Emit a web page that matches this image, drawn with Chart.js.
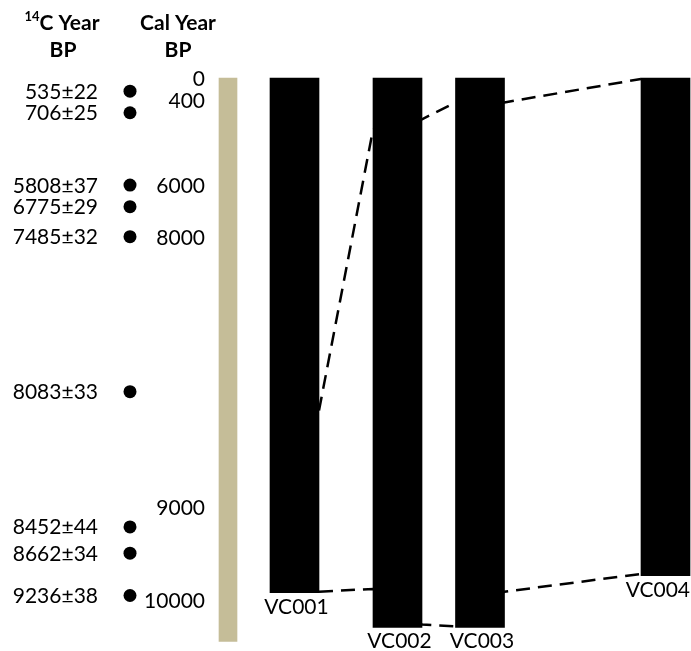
<!DOCTYPE html>
<html>
<head>
<meta charset="utf-8">
<script src="https://cdn.jsdelivr.net/npm/chart.js@4/dist/chart.umd.min.js"></script>
<style>
  html, body { margin: 0; padding: 0; background: #fff; }
  canvas { display: block; }
</style>
</head>
<body>
<canvas id="c" width="691" height="651"></canvas>
<script>
// Vibracores and their recovered intervals (depth, cm below the top of the reference column)
const coreNames = ['VC001', 'VC002', 'VC003', 'VC004'];
const coreTops = [0, 0, 0, 0];
const coreBottoms = [548, 585, 585, 530];

// Composite reference column
const refColumn = [0, 600];

// Radiocarbon ages and the depths they were sampled at
const c14Labels = ['535±22', '706±25', '5808±37', '6775±29', '7485±32', '8083±33', '8452±44', '8662±34', '9236±38'];
const c14Depths = [14, 37, 114, 137, 169, 334, 478, 506, 551];

// Calibrated age scale
const calLabels = ['0', '400', '6000', '8000', '9000', '10000'];
const calDepths = [0, 24, 114, 170, 457, 556];

// Correlation lines: depth at which each line meets a core edge, in order
// VC001 right, VC002 left, VC002 right, VC003 left, VC003 right, VC004 left
const upperTie = [354, 55, 44, 26, 26, 1];
const lowerTie = [547, 544, 582, 584, 547, 528];

// ---- layout (horizontal track positions, in canvas-width units) ----
const TRACK_W = 691;
const coreX = [294.5, 397.5, 480, 665.5];
const coreW = 49;
const refX = 228;
const refW = 18;
const dotX = 130;
const c14LabelRight = 98;
const calLabelRight = 205;

const tieX = [
  coreX[0] + coreW / 2, coreX[1] - coreW / 2,
  coreX[1] + coreW / 2, coreX[2] - coreW / 2,
  coreX[2] + coreW / 2, coreX[3] - coreW / 2
];

const FONT = 'Lato, "Open Sans", sans-serif';

const textPlugin = {
  id: 'coreText',
  afterDatasetsDraw(chart) {
    const ctx = chart.ctx;
    const xs = chart.scales.x;
    const ys = chart.scales.y;
    ctx.save();
    ctx.fillStyle = '#000';

    // column headers
    ctx.font = 'bold 21px ' + FONT;
    const wC = ctx.measureText('C Year').width;
    ctx.font = 'bold 13px ' + FONT;
    const w14 = ctx.measureText('14').width;
    const start = 62 - (w14 + wC) / 2;
    ctx.textAlign = 'left';
    ctx.textBaseline = 'alphabetic';
    ctx.fillText('14', start, 21);
    ctx.font = 'bold 21px ' + FONT;
    ctx.fillText('C Year', start + w14, 30);
    ctx.textAlign = 'center';
    ctx.fillText('BP', 63, 57);
    ctx.fillText('Cal Year', 178, 30);
    ctx.fillText('BP', 178, 57);

    // radiocarbon ages
    ctx.font = '21px ' + FONT;
    ctx.textAlign = 'right';
    c14Labels.forEach((t, i) => {
      ctx.fillText(t, c14LabelRight, ys.getPixelForValue(c14Depths[i]) + 7.5);
    });

    // calibrated ages
    calLabels.forEach((t, i) => {
      ctx.fillText(t, calLabelRight, ys.getPixelForValue(calDepths[i]) + 7.5);
    });

    // core names under each core
    ctx.textAlign = 'center';
    coreNames.forEach((n, i) => {
      const w = ctx.measureText(n).width;
      let cx = xs.getPixelForValue(coreX[i]) + 2;
      cx = Math.min(cx, chart.width - 1 - w / 2);
      ctx.fillText(n, cx, ys.getPixelForValue(coreBottoms[i]) + 21);
    });
    ctx.restore();
  }
};

new Chart(document.getElementById('c'), {
  type: 'bar',
  data: {
    datasets: [
      {
        type: 'bar',
        label: 'Reference',
        data: [{ x: refX, y: refColumn }],
        backgroundColor: '#C5BD98',
        barThickness: refW,
        grouped: false,
        clip: false,
        order: 0
      },
      {
        type: 'bar',
        label: 'Cores',
        data: coreNames.map((n, i) => ({ x: coreX[i], y: [coreTops[i], coreBottoms[i]] })),
        backgroundColor: '#000',
        barThickness: coreW,
        grouped: false,
        clip: false,
        order: 0
      },
      {
        type: 'line',
        label: 'Upper tie',
        data: tieX.map((x, i) => ({ x: x, y: upperTie[i] })),
        borderColor: '#000',
        borderWidth: 2.5,
        borderDash: [14, 8],
        pointRadius: 0,
        tension: 0,
        fill: false,
        clip: false,
        order: 1
      },
      {
        type: 'line',
        label: 'Lower tie',
        data: tieX.map((x, i) => ({ x: x, y: lowerTie[i] })),
        borderColor: '#000',
        borderWidth: 2.5,
        borderDash: [14, 8],
        pointRadius: 0,
        tension: 0,
        fill: false,
        clip: false,
        order: 1
      },
      {
        type: 'line',
        label: 'Dated samples',
        data: c14Depths.map(d => ({ x: dotX, y: d })),
        showLine: false,
        pointRadius: 6.5,
        pointBackgroundColor: '#000',
        pointBorderWidth: 0,
        clip: false,
        order: 0
      }
    ]
  },
  options: {
    responsive: false,
    animation: false,
    devicePixelRatio: 1,
    layout: { autoPadding: false, padding: { top: 78, bottom: 9.5, left: 0, right: 0 } },
    plugins: { legend: { display: false }, tooltip: { enabled: false } },
    scales: {
      x: { type: 'linear', min: 0, max: TRACK_W, offset: false, display: false },
      y: { type: 'linear', min: 0, max: 600, reverse: true, display: false }
    }
  },
  plugins: [textPlugin]
});
</script>
</body>
</html>
